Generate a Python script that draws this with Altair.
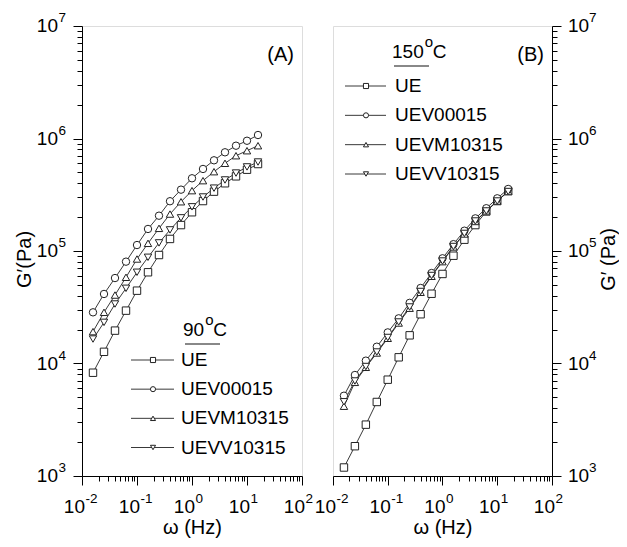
import altair as alt
import pandas as pd

FONT = "Liberation Sans"

freq_hz = [0.01585, 0.02512, 0.03981, 0.0631, 0.1, 0.1585, 0.2512, 0.3981,
           0.631, 1.0, 1.585, 2.512, 3.981, 6.31, 10.0, 15.85]
series = ["UE", "UEV00015", "UEVM10315", "UEVV10315"]
shapes = ["square", "circle", "triangle-up", "triangle-down"]

# 90 C (panel A)
ue_90 = [8280, 12700, 19600, 29500, 44400, 64700, 92100, 128000, 170000,
         221000, 278000, 337000, 400000, 461000, 528000, 593000]
uev_90 = [28500, 41500, 57500, 80400, 113000, 157000, 206000, 277000, 351000,
          443000, 536000, 640000, 754000, 863000, 955000, 1074000]
uevm_90 = [19200, 28500, 40600, 58400, 84900, 117000, 159000, 213000, 274000,
           344000, 422000, 507000, 602000, 703000, 779000, 863000]
uevv_90 = [16500, 23200, 33800, 46600, 64700, 87900, 118000, 154000, 197000,
           247000, 302000, 362000, 428000, 493000, 559000, 618000]

# 150 C (panel B)
ue_150 = [1190, 1840, 2860, 4550, 7180, 11350, 17800, 27400, 41700, 62500,
          90800, 126000, 170000, 224500, 278000, 341000]
uev_150 = [5170, 7900, 10600, 14100, 18900, 25200, 34600, 46900, 63700, 86100,
           115000, 151500, 195000, 240000, 294000, 356000]
uevm_150 = [4170, 6800, 9250, 12400, 16750, 22900, 31000, 42950, 59600, 80400,
            108600, 141600, 183000, 227000, 278000, 338000]
uevv_150 = [4570, 6990, 9400, 12650, 17030, 23380, 31780, 43650, 60560, 81470,
            109600, 143200, 184800, 226800, 278200, 337800]

x_major = [0.01, 0.1, 1, 10, 100]
x_exp = ["-2", "-1", "0", "1", "2"]
y_major = [1e3, 1e4, 1e5, 1e6, 1e7]
y_exp = ["3", "4", "5", "6", "7"]

x_ticks = x_major + [m * 10.0 ** e for e in range(-2, 2) for m in range(2, 10)]
y_ticks = y_major + [m * 10.0 ** e for e in range(3, 7) for m in range(2, 10)]


def long_df(vals):
    rows = []
    for name, ys in zip(series, vals):
        for f, g in zip(freq_hz, ys):
            rows.append({"freq": f, "G": g, "series": name})
    return pd.DataFrame(rows)


df90 = long_df([ue_90, uev_90, uevm_90, uevv_90])
df150 = long_df([ue_150, uev_150, uevm_150, uevv_150])
legend_df = pd.DataFrame({"series": series, "row": [0, 1, 2, 3]})
xlab_df = pd.DataFrame({"v": x_major, "exp": x_exp})
ylab_df = pd.DataFrame({"v": y_major, "exp": y_exp})

tick_cond = {"condition": {"test": "abs(log(datum.value)/LN10 - round(log(datum.value)/LN10)) < 0.001",
                           "value": 9}, "value": 5}

H = 450


def panel(df, W, side, temp, plabel, leg):
    xs = alt.Scale(type="log", domain=[0.01, 100])
    ys = alt.Scale(type="log", domain=[1e3, 1e7])
    shp = alt.Scale(domain=series, range=shapes)
    x_axis = alt.Axis(values=x_ticks, labels=False, tickSize=tick_cond, tickColor="black",
                      domainColor="black", grid=False, title="ω (Hz)", titleFont=FONT,
                      titleFontSize=20, titleFontWeight="normal", titleX=W / 2, titleY=51,
                      titleBaseline="middle", titleColor="black")
    if side == "left":
        y_title, tx = "G′(Pa)", -58
    else:
        y_title, tx = "G′ (Pa)", 56
    y_axis = alt.Axis(orient=side, values=y_ticks, labels=False, tickSize=tick_cond,
                      tickColor="black", domainColor="black", grid=False, title=y_title,
                      titleFont=FONT, titleFontSize=20, titleFontWeight="normal",
                      titleAngle=270, titleX=tx, titleY=233, titleBaseline="middle",
                      titleAlign="center", titleColor="black")
    base = alt.Chart(df)
    lines = base.mark_line(color="#222", strokeWidth=0.9).encode(
        x=alt.X("freq:Q", scale=xs, axis=x_axis),
        y=alt.Y("G:Q", scale=ys, axis=y_axis),
        detail="series:N")
    pts = base.mark_point(filled=True, fill="white", stroke="#222", strokeWidth=1,
                          size=55, opacity=1).encode(
        x=alt.X("freq:Q", scale=xs),
        y=alt.Y("G:Q", scale=ys, axis=None),
        shape=alt.Shape("series:N", scale=shp, legend=None))

    # tick labels
    xl = alt.Chart(xlab_df)
    xl10 = xl.mark_text(text="10", align="right", baseline="middle", dx=3,
                        font=FONT, fontSize=19).encode(
        x=alt.X("v:Q", scale=xs), y=alt.value(H + 30.5))
    xlexp = xl.mark_text(align="left", baseline="middle", dx=3.5, dy=-8,
                         font=FONT, fontSize=13.5).encode(
        x=alt.X("v:Q", scale=xs), y=alt.value(H + 30.5), text="exp:N")
    yl = alt.Chart(ylab_df)
    if side == "left":
        yx10, yxe, al = -24, -23.5, "right"
    else:
        yx10, yxe, al = W + 16, W + 37, "left"
    yl10 = yl.mark_text(text="10", align=al, baseline="middle", font=FONT,
                        fontSize=19).encode(
        y=alt.Y("v:Q", scale=ys, axis=None), x=alt.value(yx10))
    ylexp = yl.mark_text(align="left", baseline="middle", dy=-8, font=FONT,
                         fontSize=13.5).encode(
        y=alt.Y("v:Q", scale=ys, axis=None), x=alt.value(yxe), text="exp:N")

    # legend
    lx1, lx2, lmx, ltx, r0, r3 = leg["lx1"], leg["lx2"], leg["mx"], leg["tx"], leg["r0"], leg["r3"]
    lscale = alt.Scale(domain=[0, 3], range=[r0, r3])
    lb = alt.Chart(legend_df)
    lrule = lb.mark_rule(color="#222", strokeWidth=0.9).encode(
        x=alt.value(lx1), x2=alt.value(lx2), y=alt.Y("row:Q", scale=lscale, axis=None))
    lpts = lb.mark_point(filled=True, fill="white", stroke="#222", strokeWidth=1,
                         size=26, opacity=1).encode(
        x=alt.value(lmx), y=alt.Y("row:Q", scale=lscale, axis=None),
        shape=alt.Shape("series:N", scale=shp, legend=None))
    ltext = lb.mark_text(align="left", baseline="middle", font=FONT, fontSize=19).encode(
        x=alt.value(ltx), y=alt.Y("row:Q", scale=lscale, axis=None), text="series:N")

    tnum, tx0, tb = temp
    one = alt.Chart(legend_df).transform_filter("datum.row == 0")
    t1 = one.mark_text(text=tnum, align="left", baseline="alphabetic", font=FONT,
                       fontSize=19).encode(x=alt.value(tx0), y=alt.value(tb))
    nw = 10.6 * len(tnum)
    t2 = one.mark_text(text="o", align="left", baseline="alphabetic", font=FONT,
                       fontSize=15).encode(x=alt.value(tx0 + nw + 1), y=alt.value(tb - 11))
    t3 = one.mark_text(text="C", align="left", baseline="alphabetic", font=FONT,
                       fontSize=19).encode(x=alt.value(tx0 + nw + 9), y=alt.value(tb))
    uline = one.mark_rule(color="#888", strokeWidth=1.8).encode(
        x=alt.value(tx0 + 2), x2=alt.value(tx0 + 37), y=alt.value(tb + 8))

    plab = one.mark_text(text=plabel, align="right", baseline="middle", font=FONT,
                         fontSize=20).encode(x=alt.value(W - 8), y=alt.value(29))

    return alt.layer(lines, pts, xl10, xlexp, yl10, ylexp, lrule, lpts, ltext,
                     t1, t2, t3, uline, plab).resolve_scale(y="independent").properties(
        width=W, height=H)


left = panel(df90, 220, "left", ("90", 101, 310), "(A)",
             {"lx1": 49, "lx2": 92, "mx": 71, "tx": 99, "r0": 334, "r3": 421.5})
right = panel(df150, 219, "right", ("150", 59, 32), "(B)",
              {"lx1": 12, "lx2": 53, "mx": 33, "tx": 62, "r0": 60, "r3": 148})

chart = alt.hconcat(left, right, spacing=31, bounds="flush").properties(
    padding={"left": 5, "top": 2, "right": 0, "bottom": 0}
).configure_view(stroke="#333", strokeWidth=1.2).configure(font=FONT)

chart.save("out.html", embed_options={"renderer": "svg", "actions": False})
